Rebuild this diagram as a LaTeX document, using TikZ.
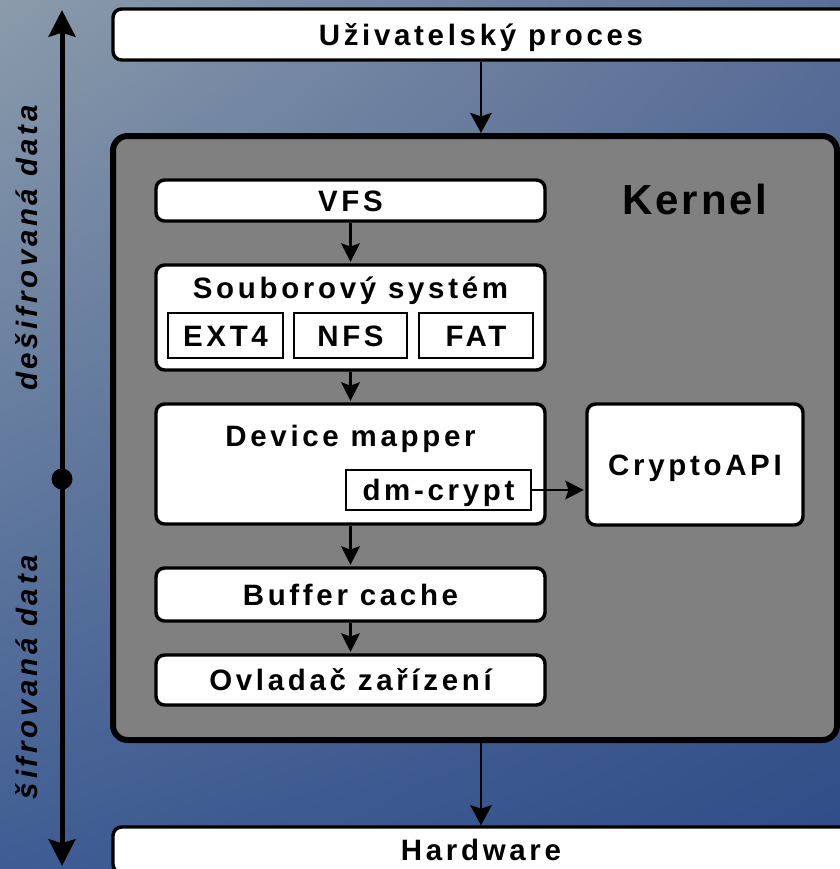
\documentclass[tikz,border=0pt]{standalone}
\usepackage{fontspec}
\setmainfont{Liberation Sans}
\newfontfamily\lblfont[LetterSpace=12.5]{Liberation Sans}
\newfontfamily\kernfont[LetterSpace=7]{Liberation Sans}
\usetikzlibrary{arrows.meta,shadings}
\definecolor{bgUL}{HTML}{8B9BAB}
\definecolor{bgUR}{HTML}{5A6E97}
\definecolor{bgLL}{HTML}{3F5D93}
\definecolor{bgLR}{HTML}{2E4C88}
\definecolor{kgray}{HTML}{808080}
\tikzset{
  lbl/.style={font=\lblfont\bfseries\fontsize{22.1}{26}\selectfont, text height=15.8pt, text depth=0pt, inner sep=0pt},
  box/.style={lbl, draw=black, line width=2.6pt, fill=white, rounded corners=6.5pt},
  subbox/.style={lbl, draw=black, line width=1.6pt, fill=white},
  kernelbox/.style={draw=black, line width=4.5pt, fill=kgray, rounded corners=11pt, inner sep=0pt},
  kerntext/.style={font=\kernfont\bfseries\fontsize{31.5}{36}\selectfont, text height=22.5pt, text depth=0pt, inner sep=0pt},
  sidelabel/.style={font=\lblfont\bfseries\itshape\fontsize{22.1}{26}\selectfont, text height=15.8pt, text depth=0pt, inner sep=0pt, rotate=90, text=black},
  bigarrow/.style={draw=black, line width=2.2pt, -{Stealth[length=15pt,width=16pt,inset=2.5pt]}},
  smallarrow/.style={draw=black, line width=1.7pt, -{Stealth[length=14pt,width=14pt,inset=2.5pt]}, shorten >=1pt},
  dblarrow/.style={draw=black, line width=3.75pt, {Stealth[length=20pt,width=20pt,inset=3pt]}-{Stealth[length=20pt,width=20pt,inset=3pt]}},
  middot/.style={circle, fill=black, minimum size=15.75pt, inner sep=0pt}
}
\begin{document}
\begin{tikzpicture}[x=0.75pt, y=-0.75pt]
\useasboundingbox (0,0) rectangle (840,869);
\clip (0,0) rectangle (840,869);
\shade[upper left=bgUL, upper right=bgUR, lower left=bgLL, lower right=bgLR] (0,0) rectangle (840,869);

% top and bottom boxes
\node[box, minimum width=552pt, minimum height=38.25pt] (user) at (481,34.5) {Uživatelský proces};
\node[box, minimum width=552pt, minimum height=34.5pt] (hw) at (481,850) {Hardware};

% kernel
\node[kernelbox, minimum width=543pt, minimum height=453pt] (kernel) at (475,438) {};
\node[kerntext] (kernlbl) at (695,199) {Kernel};

% kernel contents
\node[box, minimum width=291.75pt, minimum height=30.75pt] (vfs) at (350.5,200.5) {VFS};
\node[box, minimum width=291.75pt, minimum height=78.75pt] (fs) at (350.5,317.5) {};
\node[lbl] (fstitle) at (350.5,288) {Souborový systém};
\node[subbox, minimum width=86.25pt, minimum height=33.75pt] (ext4) at (225.5,335.5) {EXT4};
\node[subbox, minimum width=84.75pt, minimum height=33.75pt] (nfs) at (350.5,335.5) {NFS};
\node[subbox, minimum width=85.5pt, minimum height=33.75pt] (fat) at (476,335.5) {FAT};
\node[box, minimum width=291.75pt, minimum height=90pt] (dm) at (350.5,464) {};
\node[lbl] (dmtitle) at (350.5,436) {Device mapper};
\node[subbox, minimum width=138.75pt, minimum height=30pt] (dmcrypt) at (438.5,490) {dm-crypt};
\node[box, minimum width=162pt, minimum height=90.75pt] (crypto) at (695,464.5) {CryptoAPI};
\node[box, minimum width=291.75pt, minimum height=39.75pt] (buf) at (350.5,594.5) {Buffer cache};
\node[box, minimum width=291.75pt, minimum height=37.5pt] (drv) at (350.5,680) {Ovladač zařízení};

% connectors
\draw[bigarrow] (user.south) -- (user.south |- kernel.north);
\draw[bigarrow] (hw.north |- kernel.south) -- (hw.north);
\draw[smallarrow] (vfs.south) -- (fs.north);
\draw[smallarrow] (fs.south) -- (dm.north);
\draw[smallarrow] (dm.south) -- (buf.north);
\draw[smallarrow] (buf.south) -- (drv.north);
\draw[smallarrow] (dmcrypt.east) -- (crypto.west |- dmcrypt.east);

% left axis
\coordinate (ltop) at (62,10);
\coordinate (lbot) at (62,866);
\draw[dblarrow] (ltop) -- (lbot);
\node[middot] (mid) at (62,479) {};
\node[sidelabel] (dec) at (27,248) {dešifrovaná data};
\node[sidelabel] (enc) at (27,677) {šifrovaná data};
\end{tikzpicture}
\end{document}
